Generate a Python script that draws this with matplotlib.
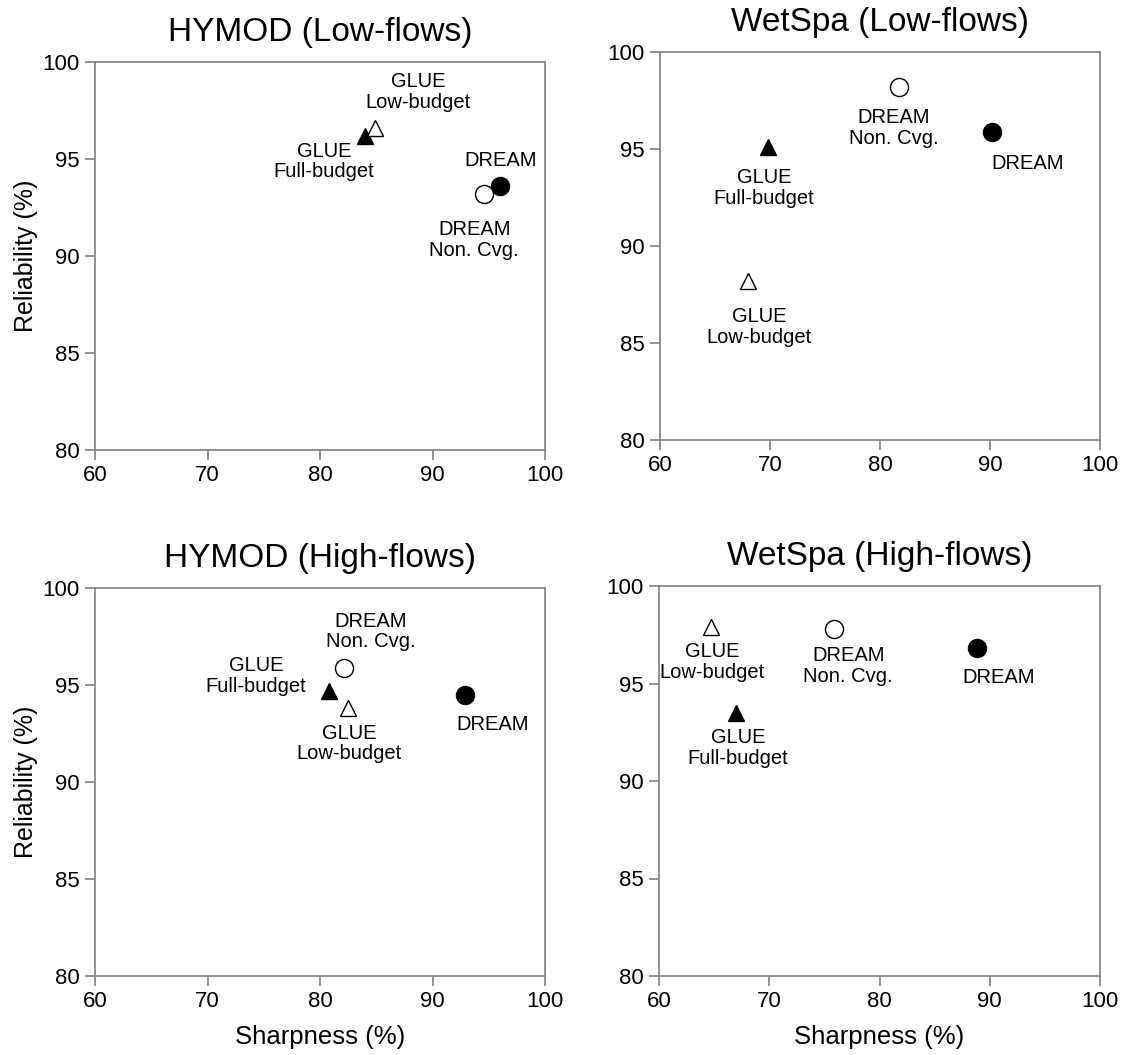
import matplotlib.pyplot as plt

plt.rcParams['font.family'] = ['Liberation Sans', 'DejaVu Sans']

W, H = 1133, 1055

# ---- data (sharpness %, reliability %) ----
names = ["GLUE\nFull-budget", "GLUE\nLow-budget", "DREAM", "DREAM\nNon. Cvg."]

hymod_low_x = [84.0, 84.9, 96.0, 94.6]
hymod_low_y = [96.2, 96.6, 93.6, 93.2]

wetspa_low_x = [69.8, 68.0, 90.2, 81.7]
wetspa_low_y = [95.1, 88.2, 95.9, 98.2]

hymod_high_x = [80.8, 82.5, 92.9, 82.1]
hymod_high_y = [94.7, 93.8, 94.5, 95.9]

wetspa_high_x = [67.0, 64.7, 88.8, 75.9]
wetspa_high_y = [93.5, 97.9, 96.8, 97.8]

titles = ["HYMOD (Low-flows)", "WetSpa (Low-flows)",
          "HYMOD (High-flows)", "WetSpa (High-flows)"]

# marker styles for each method
markers = ["^", "^", "o", "o"]
faces = ["black", "white", "black", "white"]
sizes = [11, 12, 13, 13]

# label offsets in pixels (dx, dy down positive)
offsets = [
    [(-41, 26), (43, -36), (1, -26), (-10, 46)],
    [(-4, 41), (11, 46), (35, 32), (-5, 41)],
    [(-73, -15), (1, 35), (28, 30), (27, -36)],
    [(2, 35), (1, 35), (22, 29), (14, 37)],
]

# axes boxes in pixels (left, top, right, bottom)
boxes = [(95, 62, 545, 450), (660, 52, 1100, 440),
         (95, 588, 545, 976), (659, 586, 1100, 976)]

data = [(hymod_low_x, hymod_low_y), (wetspa_low_x, wetspa_low_y),
        (hymod_high_x, hymod_high_y), (wetspa_high_x, wetspa_high_y)]

fig = plt.figure(figsize=(W / 100, H / 100), dpi=100)
px = 72 / 100  # pixel -> points

for k, (box, (xs, ys)) in enumerate(zip(boxes, data)):
    l, t, r, b = box
    ax = fig.add_axes([l / W, 1 - b / H, (r - l) / W, (b - t) / H])
    for i in range(4):
        ax.plot(xs[i], ys[i], marker=markers[i], markersize=sizes[i],
                markerfacecolor=faces[i], markeredgecolor="black",
                markeredgewidth=1.0, linestyle="none", clip_on=False)
        dx, dy = offsets[k][i]
        ax.annotate(names[i], (xs[i], ys[i]), xytext=(dx * px, -dy * px),
                    textcoords="offset points", ha="center", va="center",
                    fontsize=14.5, linespacing=1.1)
    ax.set_xlim(60, 100)
    ax.set_ylim(80, 100)
    ax.set_xticks([60, 70, 80, 90, 100])
    ax.set_yticks([80, 85, 90, 95, 100])
    for s in ax.spines.values():
        s.set_color("#808080")
        s.set_linewidth(1.2)
    ax.tick_params(direction="out", length=7, width=1.2, color="#808080",
                   labelsize=16, pad=4)
    ax.set_title(titles[k], fontsize=24, pad=15)
    if k in (0, 2):
        ax.set_ylabel("Reliability (%)", fontsize=18, labelpad=3)
    if k in (2, 3):
        ax.set_xlabel("Sharpness (%)", fontsize=18.5, labelpad=9)

fig.savefig("out.png", dpi=100)
